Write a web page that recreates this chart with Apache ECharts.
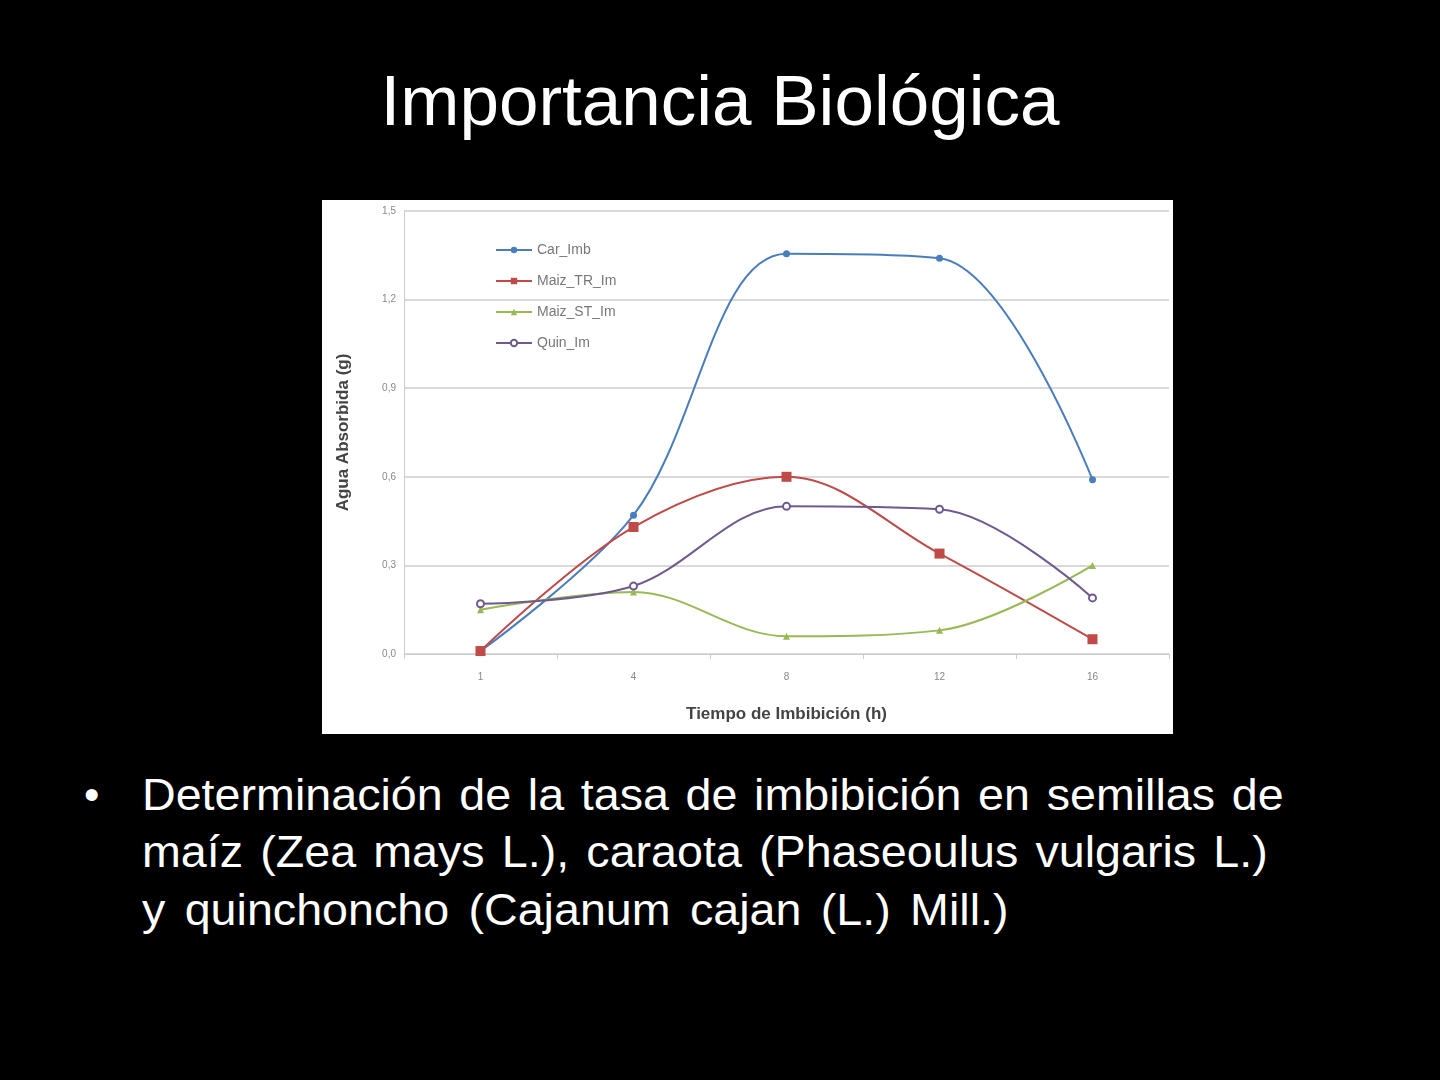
<!DOCTYPE html>
<html><head><meta charset="utf-8">
<script src="https://cdn.jsdelivr.net/npm/echarts@6/dist/echarts.min.js"></script>
<style>
body{margin:0;background:#000;width:1440px;height:1080px;position:relative;overflow:hidden;font-family:"Liberation Sans",Arial,sans-serif;color:#fff}
#title{position:absolute;top:60px;left:0;width:1440px;text-align:center;font-size:71px}
#chart{position:absolute;left:322px;top:200px;width:851px;height:534px;background:#fff}
.ln{position:absolute;left:142px;width:1077px;font-size:44px;line-height:50px;white-space:nowrap;transform:scaleX(1.06);transform-origin:0 0}
.j{text-align:justify;text-align-last:justify;white-space:normal}
#bul{position:absolute;left:84px;top:770px;font-size:44px;line-height:50px}
</style></head><body>
<div id="title">Importancia Biológica</div>
<div id="chart"></div>
<div id="bul">•</div>
<div class="ln j" style="top:770px">Determinación de la tasa de imbibición en semillas de</div>
<div class="ln j" style="top:827px;width:1062px">maíz (Zea mays L.), caraota (Phaseoulus vulgaris L.)</div>
<div class="ln" style="top:885px;word-spacing:6px">y quinchoncho (Cajanum cajan (L.) Mill.)</div>
<script>
const categories=['1','4','8','12','16'];
const yTicks=['0,0','0,3','0,6','0,9','1,2','1,5'];
const carImb=[0.01,0.47,1.355,1.34,0.59];
const maizTR=[0.01,0.43,0.60,0.34,0.05];
const maizST=[0.15,0.21,0.06,0.08,0.30];
const quinIm=[0.17,0.23,0.50,0.49,0.19];
const names=['Car_Imb','Maiz_TR_Im','Maiz_ST_Im','Quin_Im'];
const colors=['#4a7ebb','#be4b48','#98b954','#6f5a8f'];
const symbols=['circle','rect','triangle','emptyCircle'];
const data=[carImb,maizTR,maizST,quinIm];
const c=echarts.init(document.getElementById('chart'));
c.setOption({
 animation:false,
 grid:{left:82,top:11,right:4,bottom:80},
 legend:{orient:'vertical',left:168,top:38,itemGap:17,itemWidth:36,itemHeight:8,
  textStyle:{color:'#777',fontSize:14,fontFamily:'Liberation Sans'},data:names},
 xAxis:{type:'category',data:categories,boundaryGap:true,
  name:'Tiempo de Imbibición (h)',nameLocation:'middle',nameGap:52,
  nameTextStyle:{color:'#444',fontWeight:'bold',fontSize:17},
  axisLine:{lineStyle:{color:'#ccc'}},axisTick:{show:true,lineStyle:{color:'#ccc'}},
  axisLabel:{color:'#888',fontSize:10,margin:18}},
 yAxis:{type:'value',min:0,max:1.5,interval:0.3,
  name:'Agua Absorbida (g)',nameLocation:'middle',nameGap:52,
  nameTextStyle:{color:'#444',fontWeight:'bold',fontSize:17},
  axisLabel:{color:'#888',fontSize:10,formatter:(v,i)=>yTicks[i]},
  splitLine:{lineStyle:{color:'#ccc',width:1.5}},
  axisLine:{show:true,lineStyle:{color:'#ccc'}}},
 series:data.map((d,i)=>({name:names[i],type:'line',smooth:0.35,data:d,
  symbol:symbols[i],symbolSize:i===1?10:7,
  lineStyle:{color:colors[i],width:2},itemStyle:{color:colors[i]}}))
});
</script></body></html>
